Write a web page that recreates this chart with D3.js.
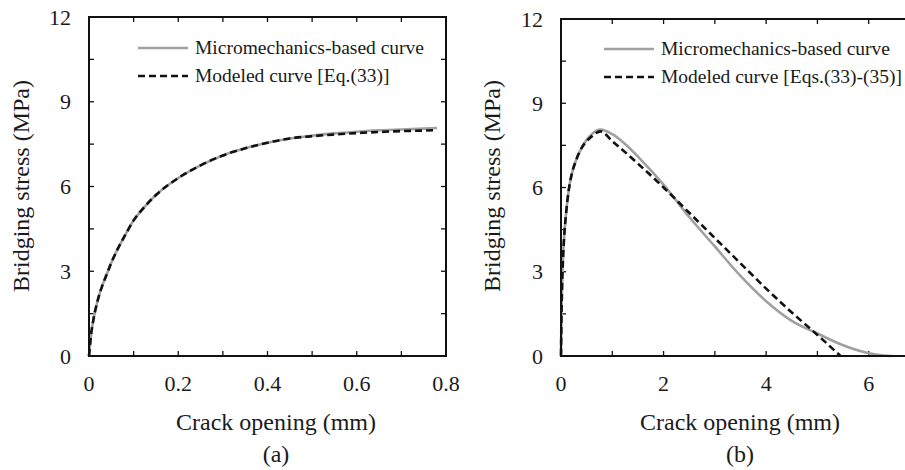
<!DOCTYPE html>
<html><head><meta charset="utf-8">
<script src="https://cdn.jsdelivr.net/npm/d3@7/dist/d3.min.js"></script>
</head><body style="margin:0;background:#fff"><svg id="c" width="905" height="470" style="display:block"></svg>
<script>
// Panel (a)
const aX = [0,0.005,0.01,0.02,0.03,0.04,0.05,0.06,0.08,0.1,0.12,0.15,0.2,0.25,0.3,0.35,0.4,0.45,0.5,0.55,0.6,0.65,0.7,0.75,0.78];
const aMicro = [0,0.8,1.3,2.0,2.5,2.9,3.3,3.65,4.25,4.8,5.2,5.7,6.3,6.75,7.1,7.35,7.55,7.7,7.8,7.88,7.94,7.99,8.02,8.05,8.07];
const aModel = [0,0.8,1.3,2.0,2.5,2.9,3.3,3.65,4.25,4.8,5.2,5.7,6.3,6.75,7.1,7.35,7.55,7.7,7.78,7.84,7.89,7.93,7.96,7.98,8.0];
// Panel (b)
const bMicroX = [0,0.01,0.02,0.04,0.06,0.1,0.15,0.2,0.3,0.4,0.5,0.6,0.77,1.0,1.25,1.5,2.0,2.5,3.0,3.5,4.0,4.5,5.0,5.5,6.0,6.3,6.46];
const bMicro  = [0,1.5,2.4,3.5,4.2,5.1,5.9,6.4,7.0,7.4,7.7,7.9,8.06,7.9,7.55,7.1,6.1,4.95,3.9,2.85,1.95,1.25,0.8,0.38,0.1,0.02,0];
const bModelX = [0,0.01,0.02,0.04,0.06,0.1,0.15,0.2,0.3,0.4,0.5,0.6,0.77,1.0,1.5,2.0,2.5,3.0,3.5,4.0,4.5,5.0,5.45];
const bModel  = [0,1.5,2.4,3.5,4.2,5.1,5.9,6.4,7.0,7.4,7.65,7.82,8.0,7.65,6.85,6.0,5.1,4.2,3.3,2.4,1.55,0.75,0];
const yTicks = [0,3,6,9,12];
const aXTicks = [0,0.2,0.4,0.6,0.8];
const bXTicks = [0,2,4,6];
const legendA = ["Micromechanics-based curve","Modeled curve [Eq.(33)]"];
const legendB = ["Micromechanics-based curve","Modeled curve [Eqs.(33)-(35)]"];
const xTitle = "Crack opening (mm)", yTitle = "Bridging stress (MPa)";

const FONT = '"Liberation Serif", "Times New Roman", serif';
const svg = d3.select("#c");
function txt(g, s, size){
  return g.append("text").style("font-family",FONT).style("font-size",size+"px").style("fill","#1a1a1a").text(s);
}
function panel(cfg){
  const g = svg.append("g");
  const x = d3.scaleLinear().domain(cfg.xdom).range([cfg.l,cfg.r]);
  const y = d3.scaleLinear().domain([0,12]).range([cfg.b,cfg.t]);
  const tl = 5;
  const xt = d3.range(cfg.xdom[0], cfg.xdom[1]+1e-9, cfg.xminor);
  const yt = d3.range(0, 12+1e-9, 1.5);
  const tg = g.append("g").attr("stroke","#111").attr("stroke-width",1.3);
  xt.forEach(v=>{
    tg.append("line").attr("x1",x(v)).attr("x2",x(v)).attr("y1",cfg.b).attr("y2",cfg.b-tl);
    tg.append("line").attr("x1",x(v)).attr("x2",x(v)).attr("y1",cfg.t).attr("y2",cfg.t+tl);
  });
  yt.forEach(v=>{
    tg.append("line").attr("y1",y(v)).attr("y2",y(v)).attr("x1",cfg.l).attr("x2",cfg.l+tl);
    tg.append("line").attr("y1",y(v)).attr("y2",y(v)).attr("x1",cfg.r).attr("x2",cfg.r-tl);
  });
  const line = d3.line().x(d=>x(d[0])).y(d=>y(d[1])).curve(d3.curveMonotoneX);
  g.append("path").attr("d",line(cfg.mx.map((v,i)=>[v,cfg.my[i]])))
    .attr("fill","none").attr("stroke","#a0a0a0").attr("stroke-width",2.6);
  g.append("path").attr("d",line(cfg.dx.map((v,i)=>[v,cfg.dy[i]])))
    .attr("fill","none").attr("stroke","#111").attr("stroke-width",2.6).attr("stroke-dasharray","7,4");
  g.append("rect").attr("x",cfg.l).attr("y",cfg.t).attr("width",cfg.r-cfg.l).attr("height",cfg.b-cfg.t)
    .attr("fill","none").attr("stroke","#111").attr("stroke-width",2);
  cfg.xticks.forEach(v=>{
    txt(g, v, 22).attr("x",x(v)).attr("y",cfg.b+35).attr("text-anchor","middle");
  });
  yTicks.forEach(v=>{
    txt(g, v, 22).attr("x",cfg.l-18).attr("y",y(v)).attr("dy","0.35em").attr("text-anchor","end");
  });
  txt(g, xTitle, 24).attr("x",cfg.xtc).attr("y",430).attr("text-anchor","middle");
  txt(g, cfg.label, 24).attr("x",cfg.xtc).attr("y",462).attr("text-anchor","middle");
  txt(g, yTitle, 24).attr("transform",`translate(${cfg.ytx},186) rotate(-90)`).attr("text-anchor","middle");
  cfg.legend.forEach((t,i)=>{
    const ly = cfg.legY + i*28;
    g.append("line").attr("x1",cfg.legX).attr("x2",cfg.legX+50).attr("y1",ly).attr("y2",ly)
      .attr("stroke", i===0?"#a0a0a0":"#111").attr("stroke-width",2.6)
      .attr("stroke-dasharray", i===0?null:"7,4");
    txt(g, t, 19.5).attr("x",cfg.legX+57).attr("y",ly).attr("dy","0.33em");
  });
}
panel({xdom:[0,0.8], xminor:0.1, l:89, r:446, t:17, b:356, mx:aX, my:aMicro, dx:aX, dy:aModel,
  xticks:aXTicks, legend:legendA, legX:138, legY:48, xtc:276, ytx:29, label:"(a)"});
panel({xdom:[0,7], xminor:1, l:561, r:920, t:19, b:356, mx:bMicroX, my:bMicro, dx:bModelX, dy:bModel,
  xticks:bXTicks, legend:legendB, legX:604, legY:49, xtc:740, ytx:500, label:"(b)"});
</script></body></html>
